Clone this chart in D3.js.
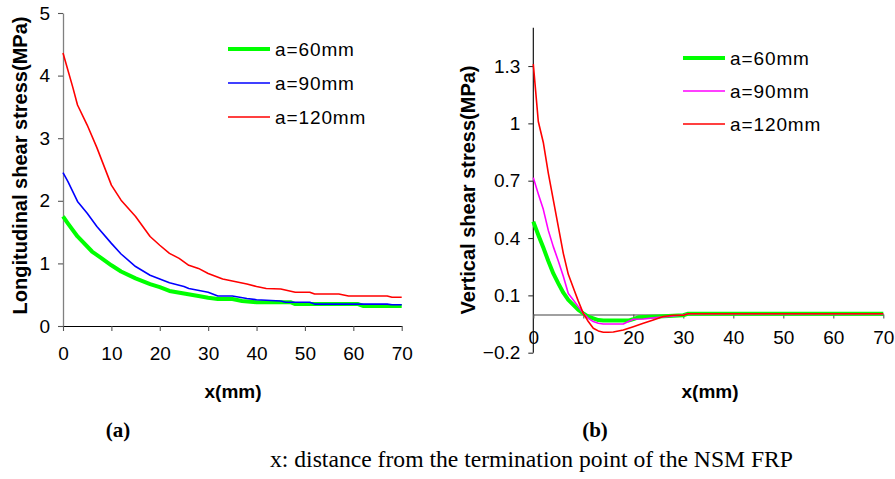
<!DOCTYPE html>
<html>
<head>
<meta charset="utf-8">
<script src="https://cdn.jsdelivr.net/npm/d3@7"></script>
<style>
  html, body { margin: 0; padding: 0; background: #fff; }
  svg { display: block; }
</style>
</head>
<body>
<svg id="chart" width="895" height="479"></svg>
<script>
// ---- Data ----
const seriesNames = ["a=60mm", "a=90mm", "a=120mm"];

// (a) Longitudinal shear stress (MPa) vs x (mm)
const longX120 = [0, 2, 3, 5, 7, 10, 12, 15, 18, 20, 22, 24, 26, 28, 30, 33, 35, 38, 40, 42, 45, 48, 51, 52, 57, 59, 67, 68, 70];
const longY120 = [4.36, 3.82, 3.53, 3.21, 2.85, 2.25, 2.01, 1.75, 1.43, 1.29, 1.16, 1.08, 0.97, 0.92, 0.84, 0.75, 0.72, 0.67, 0.63, 0.60, 0.59, 0.54, 0.54, 0.51, 0.51, 0.48, 0.48, 0.46, 0.46];
const longX90 = [0, 1, 3, 5, 7, 10, 12, 15, 18, 20, 22, 25, 26, 30, 32, 35, 38, 40, 45, 46, 51, 52, 67, 68, 70];
const longY90 = [2.45, 2.31, 1.99, 1.80, 1.59, 1.32, 1.15, 0.95, 0.81, 0.75, 0.69, 0.63, 0.60, 0.54, 0.48, 0.48, 0.44, 0.42, 0.40, 0.38, 0.38, 0.35, 0.35, 0.34, 0.34];
const longX60 = [0, 1, 3, 6, 8, 10, 12, 15, 18, 20, 22, 25, 28, 30, 32, 35, 37, 40, 47, 48, 61, 62, 70];
const longY60 = [1.75, 1.64, 1.43, 1.19, 1.08, 0.97, 0.87, 0.76, 0.67, 0.62, 0.56, 0.52, 0.48, 0.45, 0.43, 0.43, 0.40, 0.38, 0.38, 0.35, 0.35, 0.32, 0.32];

// (b) Vertical shear stress (MPa) vs x (mm)
const vertX120 = [0, 1, 2, 3, 4, 5, 6, 7, 8, 9, 10, 11, 12, 13, 14, 15, 16, 18, 20, 22, 24, 26, 28, 30, 31, 70];
const vertY120 = [1.31, 1.01, 0.90, 0.74, 0.60, 0.46, 0.32, 0.21, 0.14, 0.07, 0.006, -0.037, -0.072, -0.086, -0.093, -0.093, -0.092, -0.081, -0.064, -0.046, -0.029, -0.011, -0.004, -0.004, 0.004, 0.004];
const vertX90 = [0, 1, 2, 3, 4, 5, 6, 7, 8, 9, 10, 11, 12, 13, 14, 18, 19, 20, 22, 25, 28, 30, 31, 70];
const vertY90 = [0.716, 0.63, 0.55, 0.44, 0.355, 0.28, 0.20, 0.11, 0.076, 0.041, 0.006, -0.02, -0.037, -0.046, -0.05, -0.05, -0.037, -0.025, -0.024, -0.015, -0.008, -0.003, 0.004, 0.004];
const vertX60 = [0, 1, 2, 3, 4, 5, 6, 7, 8, 9, 10, 11, 12, 13, 14, 19, 20, 21, 25, 30, 31, 70];
const vertY60 = [0.486, 0.416, 0.35, 0.28, 0.215, 0.163, 0.114, 0.076, 0.05, 0.024, 0.006, -0.011, -0.02, -0.029, -0.032, -0.032, -0.024, -0.015, -0.011, -0.004, 0.004, 0.004];

const xTicks = [0, 10, 20, 30, 40, 50, 60, 70];
const longYTicks = [0, 1, 2, 3, 4, 5];
const vertYTicks = [-0.2, 0.1, 0.4, 0.7, 1.0, 1.3];

const titleA_Y = "Longitudinal shear stress(MPa)";
const titleB_Y = "Vertical shear stress(MPa)";
const titleX = "x(mm)";
const panelA = "(a)";
const panelB = "(b)";
const footnote = "x: distance from the termination point of the NSM FRP";

// ---- Drawing ----
const svg = d3.select("#chart");
const SANS = "'Liberation Sans', Arial, sans-serif";
const SERIF = "'Liberation Serif', 'Times New Roman', serif";

const zip = (xs, ys) => xs.map((x, i) => ({ x, y: ys[i] }));

// Panel (a)
const xA = d3.scaleLinear().domain([0, 70]).range([63, 401.7]);
const yA = d3.scaleLinear().domain([0, 5]).range([326, 13]);

// Panel (b)
const xB = d3.scaleLinear().domain([0, 70]).range([533.3, 883.3]);
const yB = d3.scaleLinear().domain([-0.2, 1.5]).range([352.7, 27.8]);

function styleAxis(g, lineColor, tickColor) {
  g.selectAll(".domain").attr("stroke", lineColor).attr("stroke-width", 1.3);
  g.selectAll(".tick line").attr("stroke", tickColor).attr("stroke-width", 1.1);
  g.selectAll(".tick text")
    .attr("fill", "#000")
    .style("font-family", SANS)
    .style("font-size", "19px");
}

// ---------- Panel (a) axes ----------
const gAy = svg.append("g").attr("transform", `translate(${xA(0)},0)`)
  .call(d3.axisLeft(yA).tickValues(longYTicks).tickFormat(d3.format("d")).tickSize(5).tickSizeOuter(0).tickPadding(8));
styleAxis(gAy, "#808080", "#555");

const gAx = svg.append("g").attr("transform", `translate(0,${yA(0)})`)
  .call(d3.axisBottom(xA).tickValues(xTicks).tickFormat(d3.format("d")).tickSize(5).tickSizeOuter(0).tickPadding(16));
styleAxis(gAx, "#000", "#555");
gAx.select(".domain").attr("stroke-width", 1.1);

// ---------- Panel (b) axes ----------
const gBy = svg.append("g").attr("transform", `translate(${xB(0)},0)`)
  .call(d3.axisLeft(yB).tickValues(vertYTicks).tickFormat(d => d === 1 ? "1" : d3.format(".1f")(d)).tickSize(5).tickSizeOuter(0).tickPadding(8));
styleAxis(gBy, "#000", "#333");
gBy.select(".domain").attr("stroke-width", 1.1);
gBy.select(".domain").attr("d", `M0,${yB(1.5)}V${yB(-0.2)}`);

const gBx = svg.append("g").attr("transform", `translate(0,${yB(0)})`)
  .call(d3.axisBottom(xB).tickValues(xTicks).tickFormat(d3.format("d")).tickSize(4).tickSizeOuter(0).tickPadding(12));
styleAxis(gBx, "#808080", "#555");
gBx.select(".domain").attr("stroke-width", 1.5);

// ---------- Lines ----------
const lineA = d3.line().x(d => xA(d.x)).y(d => yA(d.y));
const lineB = d3.line().x(d => xB(d.x)).y(d => yB(d.y));

const seriesA = [
  { name: seriesNames[0], data: zip(longX60, longY60), color: "#00ff00", w: 4 },
  { name: seriesNames[1], data: zip(longX90, longY90), color: "#0000ff", w: 1.6 },
  { name: seriesNames[2], data: zip(longX120, longY120), color: "#ff0000", w: 1.6 }
];
const seriesB = [
  { name: seriesNames[0], data: zip(vertX60, vertY60), color: "#00ff00", w: 4 },
  { name: seriesNames[1], data: zip(vertX90, vertY90), color: "#ff00ff", w: 1.6 },
  { name: seriesNames[2], data: zip(vertX120, vertY120), color: "#ff0000", w: 1.6 }
];

svg.append("g").selectAll("path").data(seriesA).join("path")
  .attr("d", s => lineA(s.data))
  .attr("fill", "none")
  .attr("stroke", s => s.color)
  .attr("stroke-width", s => s.w)
  .attr("stroke-linejoin", "round");

svg.append("g").selectAll("path").data(seriesB).join("path")
  .attr("d", s => lineB(s.data))
  .attr("fill", "none")
  .attr("stroke", s => s.color)
  .attr("stroke-width", s => s.w)
  .attr("stroke-linejoin", "round");

// ---------- Legends ----------
function legend(series, x0, y0, gap) {
  const g = svg.append("g").attr("transform", `translate(${x0},${y0})`);
  const items = g.selectAll("g").data(series).join("g")
    .attr("transform", (d, i) => `translate(0,${i * gap})`);
  items.append("line")
    .attr("x1", 0).attr("x2", 42).attr("y1", 0).attr("y2", 0)
    .attr("stroke", d => d.color)
    .attr("stroke-width", d => d.w);
  items.append("text")
    .attr("x", 47).attr("y", 0).attr("dy", "0.36em")
    .style("font-family", SANS)
    .style("font-size", "19px")
    .style("letter-spacing", "0.9px")
    .text(d => d.name);
}
legend(seriesA, 228, 49, 34);
legend(seriesB, 683, 58, 33);

// ---------- Titles ----------
svg.append("text")
  .attr("transform", `translate(27,${(13 + 318) / 2}) rotate(-90)`)
  .attr("text-anchor", "middle")
  .style("font-family", SANS).style("font-weight", "bold").style("font-size", "20px")
  .text(titleA_Y);

svg.append("text")
  .attr("transform", `translate(475,${(67 + 313) / 2}) rotate(-90)`)
  .attr("text-anchor", "middle")
  .style("font-family", SANS).style("font-weight", "bold").style("font-size", "20px")
  .text(titleB_Y);

svg.append("text")
  .attr("x", 233).attr("y", 398)
  .attr("text-anchor", "middle")
  .style("font-family", SANS).style("font-weight", "bold").style("font-size", "19px")
  .text(titleX);

svg.append("text")
  .attr("x", 710).attr("y", 398)
  .attr("text-anchor", "middle")
  .style("font-family", SANS).style("font-weight", "bold").style("font-size", "19px")
  .text(titleX);

svg.append("text")
  .attr("x", 118).attr("y", 437)
  .attr("text-anchor", "middle")
  .style("font-family", SERIF).style("font-weight", "bold").style("font-size", "21px")
  .text(panelA);

svg.append("text")
  .attr("x", 595).attr("y", 437)
  .attr("text-anchor", "middle")
  .style("font-family", SERIF).style("font-weight", "bold").style("font-size", "21px")
  .text(panelB);

svg.append("text")
  .attr("x", 270).attr("y", 467)
  .style("font-family", SERIF).style("font-size", "23px")
  .attr("textLength", 523).attr("lengthAdjust", "spacingAndGlyphs")
  .text(footnote);
</script>
</body>
</html>
